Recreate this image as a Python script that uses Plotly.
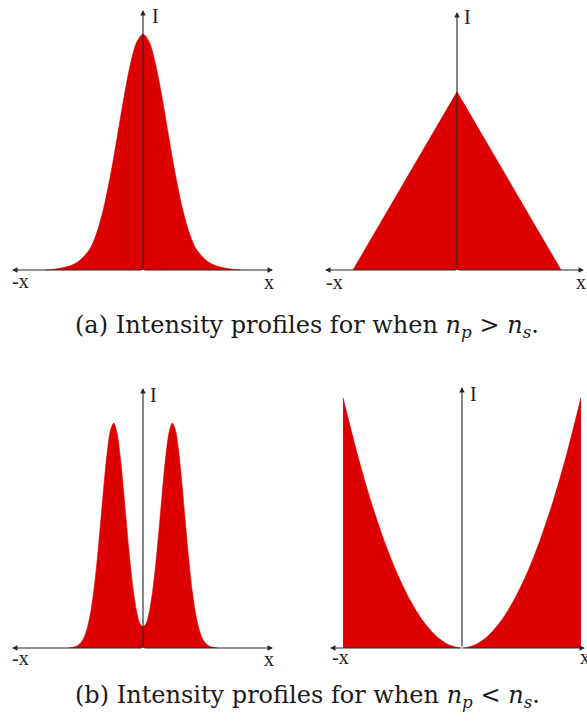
import plotly.graph_objects as go

W, H = 587, 722
RED = "rgb(221,0,0)"
AXIS = "#262626"
SERIF = "Liberation Serif, DejaVu Serif, serif"
CAPTION_FONT = "DejaVu Serif, Liberation Serif, serif"

# (a) left: single Gaussian-like lobe
gauss_x = [-0.75, -0.70, -0.65, -0.60, -0.55, -0.50, -0.45, -0.40, -0.35, -0.30,
           -0.25, -0.20, -0.15, -0.10, -0.05, 0.00, 0.05, 0.10, 0.15, 0.20,
           0.25, 0.30, 0.35, 0.40, 0.45, 0.50, 0.55, 0.60, 0.65, 0.70, 0.75]
gauss_i = [0.000, 0.002, 0.006, 0.012, 0.020, 0.035, 0.060, 0.097, 0.167, 0.268,
           0.401, 0.557, 0.720, 0.864, 0.964, 1.000, 0.964, 0.864, 0.720, 0.557,
           0.401, 0.268, 0.167, 0.097, 0.060, 0.035, 0.020, 0.012, 0.006, 0.002, 0.000]

# (a) right: triangular profile
tri_x = [-0.80, 0.00, 0.80]
tri_i = [0.000, 0.755, 0.000]

# (b) left: two lobes with a shallow central dip
dbl_x = [-0.575, -0.550, -0.525, -0.500, -0.475, -0.450, -0.425, -0.400, -0.375, -0.350,
         -0.325, -0.300, -0.275, -0.250, -0.225, -0.200, -0.175, -0.150, -0.125, -0.100,
         -0.075, -0.050, -0.025, 0.000, 0.025, 0.050, 0.075, 0.100, 0.125, 0.150,
         0.175, 0.200, 0.225, 0.250, 0.275, 0.300, 0.325, 0.350, 0.375, 0.400,
         0.425, 0.450, 0.475, 0.500, 0.525, 0.550, 0.575]
dbl_i = [0.000, 0.002, 0.005, 0.011, 0.024, 0.049, 0.092, 0.159, 0.257, 0.386,
         0.537, 0.693, 0.830, 0.923, 0.953, 0.912, 0.811, 0.669, 0.512, 0.365,
         0.244, 0.157, 0.105, 0.090, 0.105, 0.157, 0.244, 0.365, 0.512, 0.669,
         0.811, 0.912, 0.953, 0.923, 0.830, 0.693, 0.537, 0.386, 0.257, 0.159,
         0.092, 0.049, 0.024, 0.011, 0.005, 0.002, 0.000]

# (b) right: parabolic profile, truncated at the edges
par_x = [-0.915, -0.80, -0.70, -0.60, -0.50, -0.40, -0.30, -0.20, -0.10, 0.00,
         0.10, 0.20, 0.30, 0.40, 0.50, 0.60, 0.70, 0.80, 0.915]
par_i = [1.060, 0.810, 0.620, 0.456, 0.317, 0.203, 0.114, 0.051, 0.013, 0.000,
         0.013, 0.051, 0.114, 0.203, 0.317, 0.456, 0.620, 0.810, 1.060]

XS, YS = 130.0, 236.0  # pixels per data unit

# panel boxes in pixels: (left, right, top, bottom, axis centre x, baseline y)
panels = [
    dict(l=0, r=290, t=0, b=300, cx=143, base=270, tipl=12, tipr=273, tipt=10),
    dict(l=290, r=587, t=0, b=300, cx=457, base=270, tipl=325, tipr=584, tipt=12),
    dict(l=0, r=290, t=370, b=670, cx=143, base=648, tipl=12, tipr=273, tipt=388),
    dict(l=290, r=587, t=370, b=670, cx=462, base=648, tipl=330, tipr=585, tipt=387),
]
curves = [(gauss_x, gauss_i, "spline"), (tri_x, tri_i, "linear"),
          (dbl_x, dbl_i, "spline"), (par_x, par_i, "spline")]

fig = go.Figure()
annotations = []
layout = dict(width=W, height=H, margin=dict(l=0, r=0, t=0, b=0),
              paper_bgcolor="white", plot_bgcolor="white", showlegend=False)

def px(x):
    return x / W

def py(y):
    return 1 - y / H

for k, (p, (cxs, cys, shape)) in enumerate(zip(panels, curves), start=1):
    sfx = "" if k == 1 else str(k)
    xa, ya = "x" + sfx, "y" + sfx
    layout["xaxis" + sfx] = dict(domain=[px(p["l"]), px(p["r"])],
                                 range=[(p["l"] - p["cx"]) / XS, (p["r"] - p["cx"]) / XS],
                                 visible=False, anchor=ya)
    layout["yaxis" + sfx] = dict(domain=[py(p["b"]), py(p["t"])],
                                 range=[-(p["b"] - p["base"]) / YS, (p["base"] - p["t"]) / YS],
                                 visible=False, anchor=xa)
    fig.add_trace(go.Scatter(x=cxs, y=cys, xaxis=xa, yaxis=ya, mode="lines",
                             line=dict(color=RED, width=0.6, shape=shape, smoothing=0.8),
                             fill="tozeroy", fillcolor=RED, hoverinfo="skip"))
    ends = [((p["tipl"] - p["cx"]) / XS, 0), ((p["tipr"] - p["cx"]) / XS, 0),
            (0, (p["base"] - p["tipt"]) / YS)]
    for ex, ey in ends:
        annotations.append(dict(x=ex, y=ey, ax=0, ay=0, xref=xa, yref=ya,
                                axref=xa, ayref=ya, text="", showarrow=True,
                                arrowhead=2, arrowsize=1.0, arrowwidth=1.1,
                                arrowcolor=AXIS, standoff=0, startstandoff=0))

# axis letters
labels = [("-x", 20, 281), ("x", 269, 282), ("I", 155, 16),
          ("-x", 334, 282), ("x", 581, 282), ("I", 467, 17),
          ("-x", 20, 658), ("x", 269, 659), ("I", 153, 395),
          ("-x", 340, 657), ("x", 585, 657), ("I", 473, 394)]
for txt, x, y in labels:
    annotations.append(dict(x=px(x), y=py(y), xref="paper", yref="paper", text=txt,
                            showarrow=False, xanchor="center", yanchor="middle",
                            font=dict(family=SERIF, size=20, color="#222")))

captions = [
    ("(a) Intensity profiles for when <i>n</i><sub><i>p</i></sub> &gt; <i>n</i><sub><i>s</i></sub>.", 307, 326),
    ("(b) Intensity profiles for when <i>n</i><sub><i>p</i></sub> &lt; <i>n</i><sub><i>s</i></sub>.", 307, 696),
]
for txt, x, y in captions:
    annotations.append(dict(x=px(x), y=py(y), xref="paper", yref="paper", text=txt,
                            showarrow=False, xanchor="center", yanchor="middle",
                            font=dict(family=CAPTION_FONT, size=24, color="#1a1a1a")))

layout["annotations"] = annotations
fig.update_layout(**layout)
fig.write_html("out.html")
